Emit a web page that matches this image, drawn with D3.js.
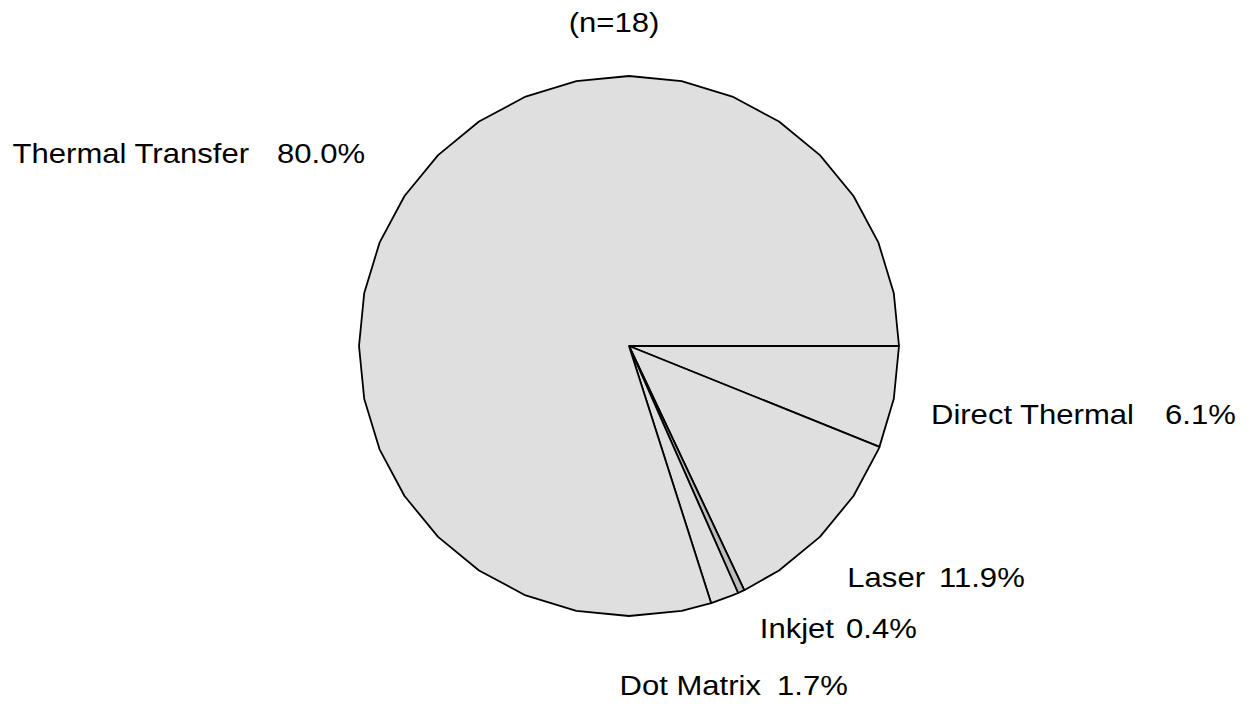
<!DOCTYPE html>
<html>
<head>
<meta charset="utf-8">
<script src="https://cdn.jsdelivr.net/npm/d3@7"></script>
<style>
  html, body { margin: 0; padding: 0; background: #fff; }
  svg { display: block; }
  text { font-family: 'Liberation Sans', Arial, sans-serif; font-size: 28.5px; fill: #000; }
</style>
</head>
<body>
<svg id="chart" width="1254" height="706"></svg>
<script>
// data, in drawing order (clockwise from 3 o'clock)
const categories = ['Direct Thermal', 'Laser', 'Inkjet', 'Dot Matrix', 'Thermal Transfer'];
const shares = [6.1, 11.9, 0.4, 1.7, 80.0];
const shareLabels = ['6.1%', '11.9%', '0.4%', '1.7%', '80.0%'];
const subtitle = '(n=18)';

// label layout: where the name ends, where the value starts, baseline
const labelLayout = {
  'Direct Thermal': { nameEnd: 1134, valueStart: 1165, y: 424 },
  'Laser': { nameEnd: 925, valueStart: 939, y: 587 },
  'Inkjet': { nameEnd: 834, valueStart: 846, y: 638 },
  'Dot Matrix': { nameEnd: 761, valueStart: 777, y: 695 },
  'Thermal Transfer': { nameEnd: 249, valueStart: 277, y: 163 }
};

const width = 1254;
const height = 706;
const center = { x: 629, y: 346 };
const radius = 270;
const edges = 32; // the outline is a polygon, not a true arc
const stretch = 1.09; // the source font runs a little wide

const svg = d3.select('#chart');

const data = categories.map((name, i) => ({ name, value: shares[i], label: shareLabels[i] }));

const pie = d3.pie()
  .sort(null)
  .value(d => d.value)
  .startAngle(Math.PI / 2)
  .endAngle(Math.PI / 2 + 2 * Math.PI);

const arcs = pie(data);

function point(a) {
  return [center.x + radius * Math.sin(a), center.y - radius * Math.cos(a)];
}

// polygonal wedge: center, slice start, polygon corners inside, slice end
function wedge(d) {
  const step = 2 * Math.PI / edges;
  const pts = [[center.x, center.y], point(d.startAngle)];
  let k = Math.floor(d.startAngle / step + 1e-9) + 1;
  while (k * step < d.endAngle - 1e-9) {
    pts.push(point(k * step));
    k += 1;
  }
  pts.push(point(d.endAngle));
  return d3.line()(pts) + 'Z';
}

function place(x, y) {
  return `translate(${x},${y}) scale(${stretch},1)`;
}

const fill = d3.scaleOrdinal()
  .domain(categories)
  .range(['#dfdfdf', '#dfdfdf', '#bcbcbc', '#dfdfdf', '#dfdfdf']);

svg.append('g')
  .attr('class', 'slices')
  .selectAll('path')
  .data(arcs)
  .enter().append('path')
  .attr('d', wedge)
  .attr('fill', d => fill(d.data.name))
  .attr('stroke', '#000')
  .attr('stroke-width', 1.8)
  .attr('stroke-linejoin', 'round');

const labels = svg.append('g')
  .attr('class', 'labels')
  .selectAll('g')
  .data(arcs)
  .enter().append('g');

labels.append('text')
  .attr('transform', d => place(labelLayout[d.data.name].nameEnd, labelLayout[d.data.name].y))
  .attr('text-anchor', 'end')
  .text(d => d.data.name);

labels.append('text')
  .attr('transform', d => place(labelLayout[d.data.name].valueStart, labelLayout[d.data.name].y))
  .attr('text-anchor', 'start')
  .text(d => d.data.label);

svg.append('text')
  .attr('transform', place(614, 32))
  .attr('text-anchor', 'middle')
  .text(subtitle);
</script>
</body>
</html>
